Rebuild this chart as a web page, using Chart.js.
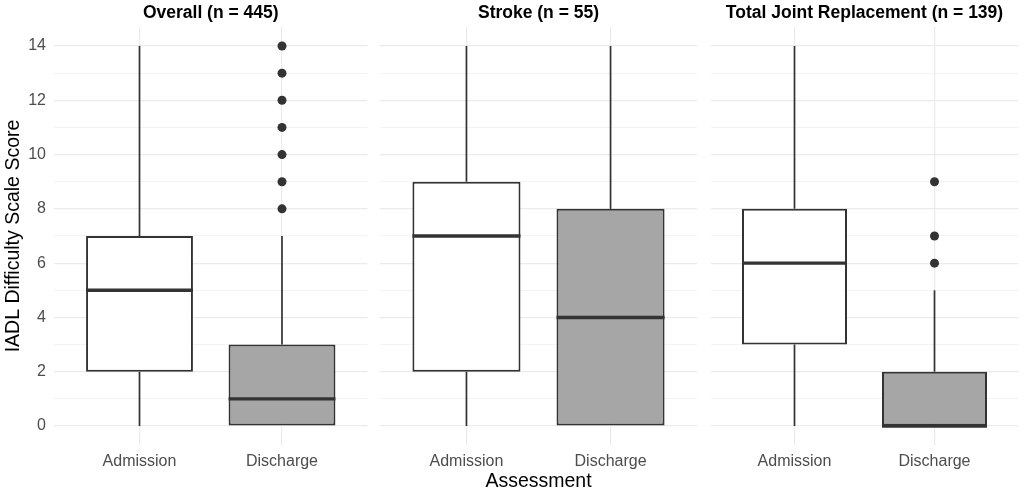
<!DOCTYPE html>
<html>
<head>
<meta charset="utf-8">
<script src="https://cdn.jsdelivr.net/npm/chart.js@4"></script>
<style>
  body { margin: 0; background: #fff; }
  .panel { position: absolute; top: 0; height: 494px; }
</style>
</head>
<body>
<div class="panel" style="left:0;width:372px"><canvas id="c0"></canvas></div>
<div class="panel" style="left:380px;width:317px"><canvas id="c1"></canvas></div>
<div class="panel" style="left:706px;width:317px"><canvas id="c2"></canvas></div>
<script>
// data, one entry per panel, [Admission, Discharge]
const assessments = ['Admission', 'Discharge'];
const panelTitles = ['Overall (n = 445)', 'Stroke (n = 55)', 'Total Joint Replacement (n = 139)'];
const yTicks = [0, 2, 4, 6, 8, 10, 12, 14];
const lowerWhisker = [[0, 0], [0, 0], [0, 0]];
const lowerQuartile = [[2, 0], [2, 0], [3, 0]];
const medians = [[5, 1], [7, 4], [6, 0]];
const upperQuartile = [[7, 3], [9, 8], [8, 2]];
const upperWhisker = [[14, 7], [14, 14], [14, 5]];
const outliers = [[[], [8, 9, 10, 11, 12, 13, 14]], [[], []], [[], [6, 7, 9]]];
const boxFills = ['#ffffff', '#a6a6a6'];

const ink = '#333333';
const gridCol = '#ebebeb';
Chart.defaults.font.family = '"Liberation Sans", Arial, sans-serif';
Chart.defaults.animation = false;

// whiskers under the boxes, medians and strip title on top
const boxExtras = {
  id: 'boxExtras',
  beforeDatasetsDraw(chart, args, opts) {
    const p = opts.panel, x = chart.scales.x, y = chart.scales.y, c = chart.ctx;
    c.save();
    c.strokeStyle = ink; c.lineWidth = 1.7;
    assessments.forEach((a, i) => {
      const px = x.getPixelForValue(i + 1);
      c.beginPath();
      c.moveTo(px, y.getPixelForValue(upperWhisker[p][i]));
      c.lineTo(px, y.getPixelForValue(upperQuartile[p][i]));
      c.moveTo(px, y.getPixelForValue(lowerQuartile[p][i]));
      c.lineTo(px, y.getPixelForValue(lowerWhisker[p][i]));
      c.stroke();
    });
    c.restore();
  },
  afterDatasetsDraw(chart, args, opts) {
    const p = opts.panel, x = chart.scales.x, y = chart.scales.y, c = chart.ctx;
    const half = (x.getPixelForValue(2) - x.getPixelForValue(1)) * 0.375;
    c.save();
    c.strokeStyle = ink; c.lineWidth = 3.4;
    assessments.forEach((a, i) => {
      const px = x.getPixelForValue(i + 1), py = y.getPixelForValue(medians[p][i]);
      c.beginPath();
      c.moveTo(px - half, py); c.lineTo(px + half, py);
      c.stroke();
    });
    c.fillStyle = '#000';
    c.font = 'bold 17.5px "Liberation Sans", Arial, sans-serif';
    c.textAlign = 'center'; c.textBaseline = 'middle';
    const area = chart.chartArea;
    c.fillText(panelTitles[p], (area.left + area.right) / 2, 13);
    c.restore();
  }
};

function makePanel(p) {
  const first = p === 0;
  const pts = [];
  outliers[p].forEach((vals, i) => vals.forEach(v => pts.push({ x: i + 1, y: v })));
  new Chart(document.getElementById('c' + p), {
    type: 'bar',
    data: {
      datasets: [{
        type: 'bar',
        data: assessments.map((a, i) => ({ x: i + 1, y: [lowerQuartile[p][i], upperQuartile[p][i]] })),
        backgroundColor: boxFills,
        borderColor: ink,
        borderWidth: 2,
        borderSkipped: false,
        barPercentage: 0.75,
        categoryPercentage: 1
      }, {
        type: 'scatter',
        data: pts,
        pointRadius: 4.5,
        pointBackgroundColor: ink,
        pointBorderWidth: 0
      }]
    },
    options: {
      responsive: true,
      maintainAspectRatio: false,
      layout: { padding: { top: 27, right: first ? 1.6 : 0, left: 0, bottom: 0 } },
      plugins: {
        legend: { display: false },
        tooltip: { enabled: false },
        boxExtras: { panel: p }
      },
      scales: {
        x: {
          type: 'linear',
          min: 0.4, max: 2.6,
          offset: false,
          afterBuildTicks: s => { s.ticks = assessments.map((a, i) => ({ value: i + 1 })); },
          afterFit: s => { s.height = 49; },
          ticks: {
            callback: v => assessments[v - 1],
            color: '#4d4d4d',
            font: { size: 16 },
            padding: 7,
            maxRotation: 0
          },
          grid: { color: gridCol, lineWidth: 1.2, drawTicks: false, offset: false },
          border: { display: false },
          title: {
            display: p === 1,
            text: 'Assessment',
            color: '#000',
            font: { size: 19.5 },
            padding: { top: 0, bottom: 1 }
          }
        },
        y: {
          min: -0.7, max: 14.7,
          afterBuildTicks: s => {
            const t = [];
            for (let v = 0; v <= 14; v++) t.push({ value: v });
            s.ticks = t;
          },
          afterFit: s => { s.width = first ? 54 : 0; },
          ticks: {
            display: first,
            callback: v => (yTicks.includes(v) ? String(v) : ''),
            color: '#4d4d4d',
            font: { size: 16 },
            padding: 8
          },
          grid: {
            color: gridCol,
            lineWidth: ctx => (ctx.tick && ctx.tick.value % 2 === 0 ? 1.2 : 0.6),
            drawTicks: false
          },
          border: { display: false },
          title: {
            display: first,
            text: 'IADL Difficulty Scale Score',
            color: '#000',
            font: { size: 19.5 },
            padding: { top: 2, bottom: 4 }
          }
        }
      }
    },
    plugins: [boxExtras]
  });
}

[0, 1, 2].forEach(makePanel);
</script>
</body>
</html>
